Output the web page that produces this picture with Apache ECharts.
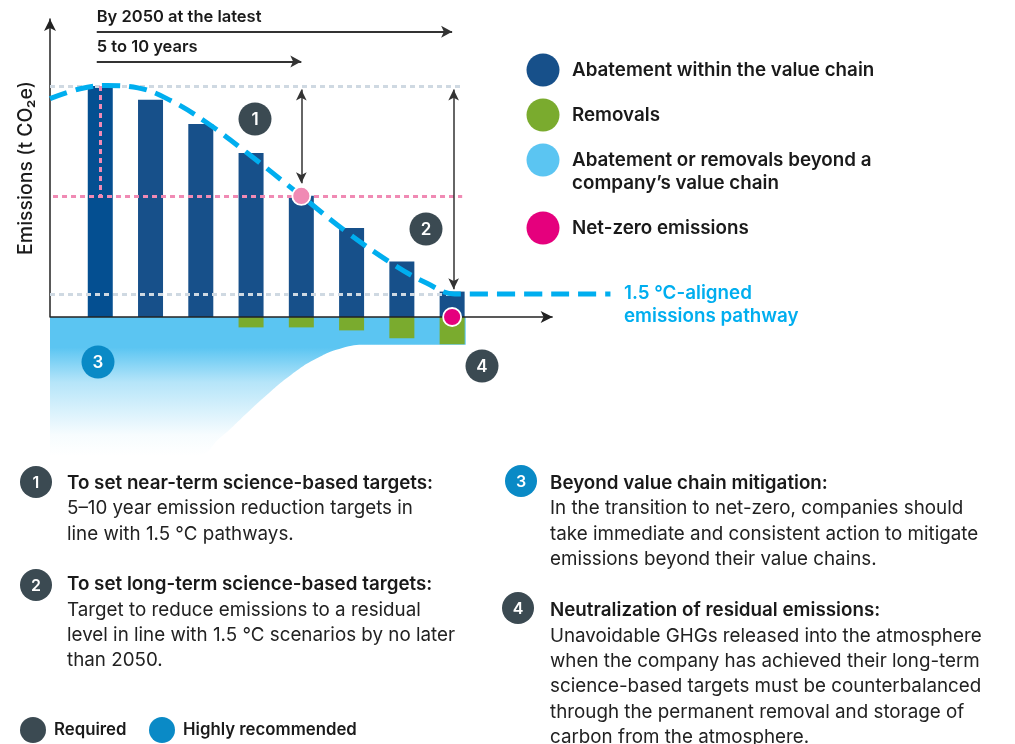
<!DOCTYPE html>
<html>
<head>
<meta charset="utf-8">
<script src="https://cdn.jsdelivr.net/npm/echarts@6/dist/echarts.min.js"></script>
<style>
  html, body { margin: 0; padding: 0; background: #fff; }
  #main { width: 1015px; height: 744px; }
</style>
</head>
<body>
<div id="main"></div>
<script>
// --- data (arbitrary emission units, base year bar = 100) ---
var years = [1, 2, 3, 4, 5, 6, 7, 8];
var abatement = [100, 94, 83.5, 71, 52.5, 38.5, 24, 11];
var removals = [0, 0, 0, -4.5, -4.5, -5.8, -9.2, -11.8];
// 1.5 °C pathway (dashed curve)
var pathwayX = [0, 0.6, 1.13, 1.75, 2.4, 3.1, 3.9, 5, 5.9, 6.85, 7.5, 8.05, 11.15];
var pathwayY = [94.5, 98.8, 100.2, 99.2, 93.7, 84.4, 71.4, 52.4, 36.8, 22.5, 14.6, 10, 10];
// lower edge of the "beyond value chain" area
var beyondX = [0, 2.9, 3.4, 3.8, 4.3, 4.8, 5.3, 5.8, 6.3, 8.27];
var beyondY = [-60, -60, -52, -44, -34, -25, -18, -13.5, -12, -12];
// key levels
var baseYear = 1, nearYear = 5, netZeroYear = 8;
var baseline = 100, nearTarget = 52.4, residual = 10;
var axisEnd = 10;

var FONT = 'Inter, "Noto Sans", sans-serif';
var DARK = '#3b4a52', BADGE_BLUE = '#0a8ac6';
var NAVY = '#17508a', BASE_NAVY = '#044f91', GREEN = '#7aab2e', SKY = '#5bc5f2', PATH = '#00aeef';
var PINK = '#f08ab4', MAGENTA = '#e5007d', GRID_GRAY = '#cfd9e2';

function zip(a, b) {
    var out = [];
    for (var i = 0; i < a.length; i++) out.push([a[i], b[i]]);
    return out;
}

function txt(x, y, s, size, weight, color) {
    return {
        type: 'text', x: x, y: y, z: 100,
        style: {
            text: s, x: 0, y: 0, fill: color || '#1a1a1a',
            font: (weight || 400) + ' ' + size + 'px ' + FONT,
            align: 'left', verticalAlign: 'middle',
            textAlign: 'left', textVerticalAlign: 'middle'
        }
    };
}

function dot(x, y, r, color) {
    return { type: 'circle', z: 100, shape: { cx: x, cy: y, r: r }, style: { fill: color } };
}

function badge(x, y, r, label, color, size) {
    return {
        type: 'group', x: x, y: y, z: 100,
        children: [
            { type: 'circle', z: 100, shape: { cx: 0, cy: 0, r: r }, style: { fill: color } },
            {
                type: 'text', z: 101,
                style: {
                    text: label, x: 0, y: 1, fill: '#fff',
                    font: '600 ' + size + 'px ' + FONT,
                    align: 'center', verticalAlign: 'middle',
                    textAlign: 'center', textVerticalAlign: 'middle'
                }
            }
        ]
    };
}

function bodyBlock(x, y, lines) {
    var els = [];
    for (var i = 0; i < lines.length; i++) {
        els.push(txt(x, y + i * 25.4, lines[i], 18.8, 400, '#222'));
    }
    return els;
}

var graphics = [];
// chart badges
graphics.push(badge(255, 119, 16.5, '1', DARK, 17));
graphics.push(badge(426, 229, 16.5, '2', DARK, 17));
graphics.push(badge(98, 362, 16.5, '3', BADGE_BLUE, 17));
graphics.push(badge(482, 366, 16.5, '4', DARK, 17));

// pathway label
graphics.push(txt(624, 293, '1.5 \u00b0C-aligned', 18.8, 600, PATH));
graphics.push(txt(624, 316, 'emissions pathway', 18.8, 600, PATH));

// legend
var legendItems = [
    { c: NAVY, y: 70, t: ['Abatement within the value chain'] },
    { c: GREEN, y: 115, t: ['Removals'] },
    { c: SKY, y: 160, t: ['Abatement or removals beyond a', 'company\u2019s value chain'] },
    { c: MAGENTA, y: 228, t: ['Net-zero emissions'] }
];
legendItems.forEach(function (it) {
    graphics.push(dot(543, it.y, 16.5, it.c));
    for (var i = 0; i < it.t.length; i++) {
        graphics.push(txt(572, it.y + i * 23.5, it.t[i], 18.8, 600, '#1a1a1a'));
    }
});

// notes underneath
var H = 18.8;
graphics.push(badge(36, 482, 16, '1', DARK, 16));
graphics.push(txt(67, 483, 'To set near-term science-based targets:', H, 600, '#1a1a1a'));
graphics = graphics.concat(bodyBlock(67, 508.5, [
    '5\u201310 year emission reduction targets in',
    'line with 1.5 \u00b0C pathways.'
]));
graphics.push(badge(36, 585, 16, '2', DARK, 16));
graphics.push(txt(67, 584, 'To set long-term science-based targets:', H, 600, '#1a1a1a'));
graphics = graphics.concat(bodyBlock(67, 610, [
    'Target to reduce emissions to a residual',
    'level in line with 1.5 \u00b0C scenarios by no later',
    'than 2050.'
]));
graphics.push(badge(521, 481, 16, '3', BADGE_BLUE, 16));
graphics.push(txt(550, 483, 'Beyond value chain mitigation:', H, 600, '#1a1a1a'));
graphics = graphics.concat(bodyBlock(550, 508.5, [
    'In the transition to net-zero, companies should',
    'take immediate and consistent action to mitigate',
    'emissions beyond their value chains.'
]));
graphics.push(badge(518, 608, 16, '4', DARK, 16));
graphics.push(txt(550, 610, 'Neutralization of residual emissions:', H, 600, '#1a1a1a'));
graphics = graphics.concat(bodyBlock(550, 636, [
    'Unavoidable GHGs released into the atmosphere',
    'when the company has achieved their long-term',
    'science-based targets must be counterbalanced',
    'through the permanent removal and storage of',
    'carbon from the atmosphere.'
]));

// bottom key
graphics.push(dot(33, 730, 13, DARK));
graphics.push(txt(54, 730, 'Required', 16.8, 600, '#1a1a1a'));
graphics.push(dot(162, 730, 13, BADGE_BLUE));
graphics.push(txt(183, 730, 'Highly recommended', 16.8, 600, '#1a1a1a'));

var dotted = function (color) {
    return { color: color, width: 3, type: [5, 4] };
};

var option = {
    animation: false,
    backgroundColor: '#fff',
    textStyle: { fontFamily: FONT },
    // x scale: 50.3 px per year, the axis arrow itself is drawn as a markLine
    grid: { left: 50, right: 397, top: 19, bottom: 427 },
    xAxis: {
        type: 'value', min: 0, max: 11.3,
        axisLine: { show: false },
        axisTick: { show: false }, axisLabel: { show: false }, splitLine: { show: false }
    },
    yAxis: {
        type: 'value', min: 0, max: 129,
        name: 'Emissions (t CO\u2082e)', nameLocation: 'middle', nameRotate: 90, nameGap: 14,
        nameTextStyle: { fontSize: 19.5, fontWeight: 500, color: '#1a1a1a', fontFamily: FONT },
        axisLine: { show: true, lineStyle: { color: '#222', width: 1.5 },
            symbol: ['none', 'arrow'], symbolSize: [9, 12] },
        axisTick: { show: false }, axisLabel: { show: false }, splitLine: { show: false }
    },
    series: [
        {
            name: 'Beyond value chain',
            type: 'line',
            data: zip(beyondX, beyondY),
            smooth: 0.5,
            clip: false,
            showSymbol: false,
            symbol: 'none',
            lineStyle: { width: 0, opacity: 0 },
            areaStyle: {
                opacity: 1,
                color: new echarts.graphic.LinearGradient(0, 0, 0, 1, [
                    { offset: 0, color: 'rgba(91,197,242,1)' },
                    { offset: 0.22, color: 'rgba(91,197,242,1)' },
                    { offset: 0.47, color: 'rgba(91,197,242,0.45)' },
                    { offset: 0.85, color: 'rgba(91,197,242,0.05)' },
                    { offset: 1, color: 'rgba(91,197,242,0)' }
                ])
            },
            z: 1
        },
        {
            name: 'Abatement within the value chain',
            type: 'bar',
            stack: 'e',
            barWidth: 25,
            clip: false,
            data: years.map(function (y, i) { return [y, abatement[i]]; }),
            itemStyle: {
                color: function (p) { return p.dataIndex === 0 ? BASE_NAVY : NAVY; }
            },
            z: 2,
            markLine: {
                silent: true,
                symbol: 'none',
                label: { show: false },
                z: 5,
                data: [
                    [{ coord: [0, baseline], lineStyle: dotted(GRID_GRAY) }, { coord: [8.2, baseline] }],
                    [{ coord: [0, residual], lineStyle: dotted(GRID_GRAY) }, { coord: [8.05, residual] }],
                    [{ coord: [0.06, nearTarget], lineStyle: dotted(PINK) }, { coord: [8.2, nearTarget] }],
                    [{ coord: [baseYear, baseline], lineStyle: dotted(PINK) }, { coord: [baseYear, nearTarget] }]
                ]
            }
        },
        {
            name: 'Removals',
            type: 'bar',
            stack: 'e',
            barWidth: 25,
            clip: false,
            data: years.map(function (y, i) { return [y, removals[i]]; }),
            itemStyle: { color: GREEN },
            z: 3
        },
        {
            name: 'x axis',
            type: 'line',
            data: [],
            clip: false,
            markLine: {
                silent: true,
                symbol: ['none', 'arrow'],
                symbolSize: [9, 12],
                lineStyle: { color: '#222', width: 1.5, type: 'solid' },
                label: { show: false },
                z: 4,
                data: [[{ coord: [0, 0] }, { coord: [axisEnd, 0] }]]
            }
        },
        {
            name: 'Spans',
            type: 'line',
            data: [],
            clip: false,
            markLine: {
                silent: true,
                symbol: ['none', 'arrow'],
                symbolSize: [9, 11],
                lineStyle: { color: '#333', width: 2, type: 'solid' },
                label: {
                    show: true, position: 'insideStartTop', distance: [0, 6],
                    formatter: '{b}', color: '#1a1a1a', fontSize: 16.5, fontWeight: 600, fontFamily: FONT
                },
                data: [
                    [{ name: 'By 2050 at the latest', coord: [0.93, 123.5] }, { coord: [netZeroYear, 123.5] }],
                    [{ name: '5 to 10 years', coord: [0.93, 110.6] }, { coord: [nearYear, 110.6] }]
                ]
            }
        },
        {
            name: 'Reductions',
            type: 'line',
            data: [],
            clip: false,
            markLine: {
                silent: true,
                symbol: ['arrow', 'arrow'],
                symbolSize: [8, 11],
                lineStyle: { color: '#333', width: 1.5, type: 'solid' },
                label: { show: false },
                z: 6,
                data: [
                    [{ coord: [nearYear, baseline - 1.5] }, { coord: [nearYear, nearTarget + 5.5] }],
                    [{ coord: [netZeroYear + 0.03, baseline - 1.5] }, { coord: [netZeroYear + 0.03, residual + 2] }]
                ]
            }
        },
        {
            name: '1.5 \u00b0C-aligned emissions pathway',
            type: 'line',
            data: zip(pathwayX, pathwayY),
            smooth: 0.4,
            clip: false,
            showSymbol: false,
            symbol: 'none',
            lineStyle: { color: PATH, width: 5, type: [18, 9] },
            z: 7
        },
        {
            name: 'Targets',
            type: 'scatter',
            clip: false,
            symbolSize: 18,
            data: [
                { value: [nearYear, nearTarget], itemStyle: { color: PINK } },
                { value: [netZeroYear, 0], itemStyle: { color: MAGENTA } }
            ],
            itemStyle: { opacity: 1, borderColor: '#fff', borderWidth: 1.8 },
            z: 8
        }
    ],
    graphic: graphics
};

var chart = echarts.init(document.getElementById('main'));
chart.setOption(option);
</script>
</body>
</html>
